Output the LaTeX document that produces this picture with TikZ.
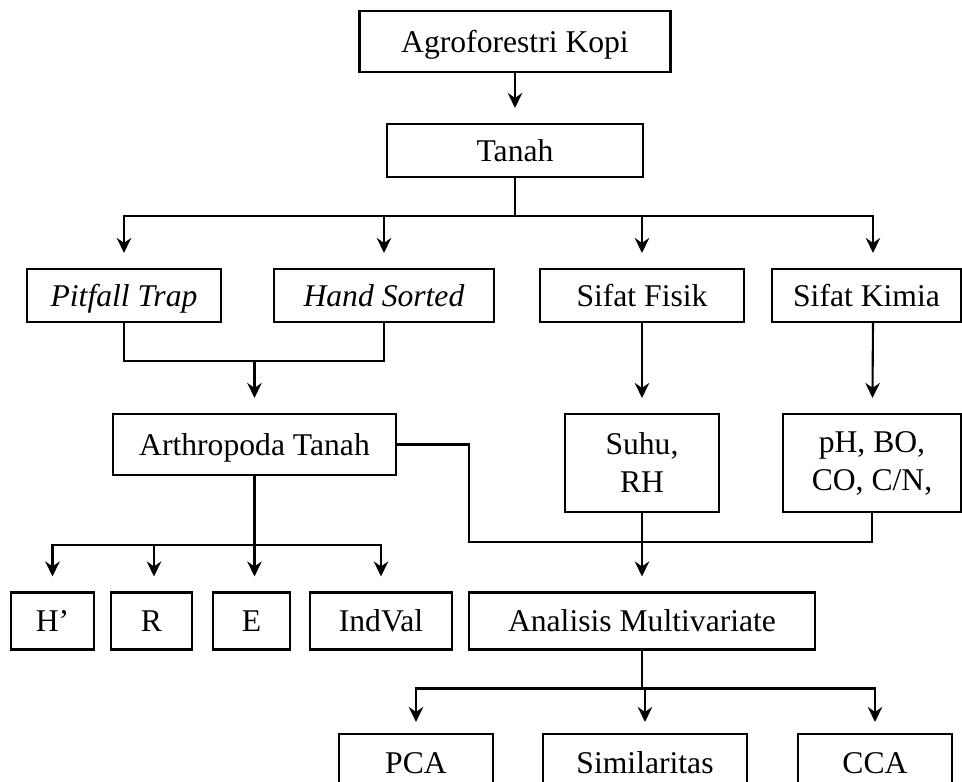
\documentclass[tikz,border=0pt]{standalone}
\usepackage{fontspec}
\setmainfont{Liberation Serif}
\usetikzlibrary{arrows.meta,positioning,calc}

\begin{document}
\begin{tikzpicture}[
    box/.style={
      draw,
      line width=1.2pt,
      minimum width=#1,
      minimum height=1.06cm,
      inner sep=0pt,
      text height=12pt,
      text depth=0pt,
      font=\fontsize{18}{21.6}\selectfont
    },
    tallbox/.style={
      draw,
      line width=1.2pt,
      minimum width=#1,
      minimum height=1.96cm,
      inner sep=0pt,
      align=center,
      font=\fontsize{18}{21.6}\selectfont
    },
    link/.style={line width=1.2pt},
    arr/.style={
      line width=1.2pt,
      -{Stealth[length=0.3cm,width=0.29cm,inset=0.1cm]},
      shorten >=0.3cm
    }
  ]

  \useasboundingbox (0,0) rectangle (19.24,15.64);
  \clip (0,0) rectangle (19.24,15.64);

  % Top
  \node[box=6.22cm,minimum height=1.22cm] (agro)  at (10.30,14.81) {Agroforestri Kopi};
  \node[box=5.12cm]                       (tanah) at (10.30,12.63) {Tanah};

  % Sampling and soil properties
  \node[box=3.88cm] (pitfall) at (2.48,9.73)  {\textit{Pitfall Trap}};
  \node[box=4.40cm] (hand)    at (7.68,9.73)  {\textit{Hand Sorted}};
  \node[box=4.08cm] (fisik)   at (12.84,9.73) {Sifat Fisik};
  \node[box=3.78cm] (kimia)   at (17.33,9.73) {Sifat Kimia};

  \node[box=5.66cm,minimum height=1.22cm] (arthro) at (5.09,6.75) {Arthropoda Tanah};
  \node[tallbox=3.08cm] (suhu) at (12.84,6.38) {Suhu,\\RH};
  \node[tallbox=3.56cm] (ph)   at (17.44,6.38) {pH, BO,\\CO, C/N,};

  % Indices
  \node[box=1.66cm,minimum height=1.14cm] (shannon)  at (1.05,3.22)  {H’};
  \node[box=1.62cm,minimum height=1.14cm] (richness) at (3.03,3.22)  {R};
  \node[box=1.54cm,minimum height=1.14cm] (evenness) at (5.03,3.22)  {E};
  \node[box=2.84cm,minimum height=1.14cm] (indval)   at (7.62,3.22)  {IndVal};
  \node[box=6.92cm,minimum height=1.14cm] (multi)    at (12.84,3.22) {Analisis Multivariate};

  \node[box=3.08cm,minimum height=1.16cm] (pca)   at (8.32,0.38)  {PCA};
  \node[box=4.08cm,minimum height=1.16cm] (simil) at (12.90,0.38) {Similaritas};
  \node[box=3.08cm,minimum height=1.16cm] (cca)   at (17.50,0.38) {CCA};

  % Junctions
  \coordinate (split1) at ($(tanah.south)+(0,-0.76)$);
  \coordinate (join1)  at ($(arthro.north)+(0,1.04)$);
  \coordinate (split2) at ($(arthro.south)+(0,-1.38)$);
  \coordinate (join2)  at ($(multi.north)+(0,0.98)$);
  \coordinate (split3) at ($(multi.south)+(0,-0.76)$);

  % Connectors
  \draw[arr] (agro) -- (tanah);
  \draw[link] (tanah) -- (split1);
  \draw[arr] (split1) -| (pitfall);
  \draw[arr] (split1) -| (hand);
  \draw[arr] (split1) -| (fisik);
  \draw[arr] (split1) -| ([xshift=0.13cm]kimia.north);

  \draw[link] (pitfall) |- (join1) -| (hand);
  \draw[arr] (join1) -- (arthro);
  \draw[arr] (fisik) -- (suhu);
  \draw[arr] ([xshift=0.13cm]kimia.south) -- (ph);

  \draw[link] (arthro) -- (split2);
  \draw[arr] (split2) -| (shannon);
  \draw[arr] (split2) -| ([xshift=0.05cm]richness.north);
  \draw[arr] (split2) -- (split2 |- evenness.north);
  \draw[arr] (split2) -| (indval);

  \draw[link] (arthro.east) -- ++(1.44,0) |- (join2);
  \draw[link] (ph) |- (join2);
  \draw[arr] (suhu) -- (multi);

  \draw[link] (multi) -- (split3);
  \draw[arr,shorten >=0.22cm] (split3) -| (pca);
  \draw[arr,shorten >=0.22cm] (split3) -| (simil);
  \draw[arr,shorten >=0.22cm] (split3) -| (cca);

\end{tikzpicture}
\end{document}
